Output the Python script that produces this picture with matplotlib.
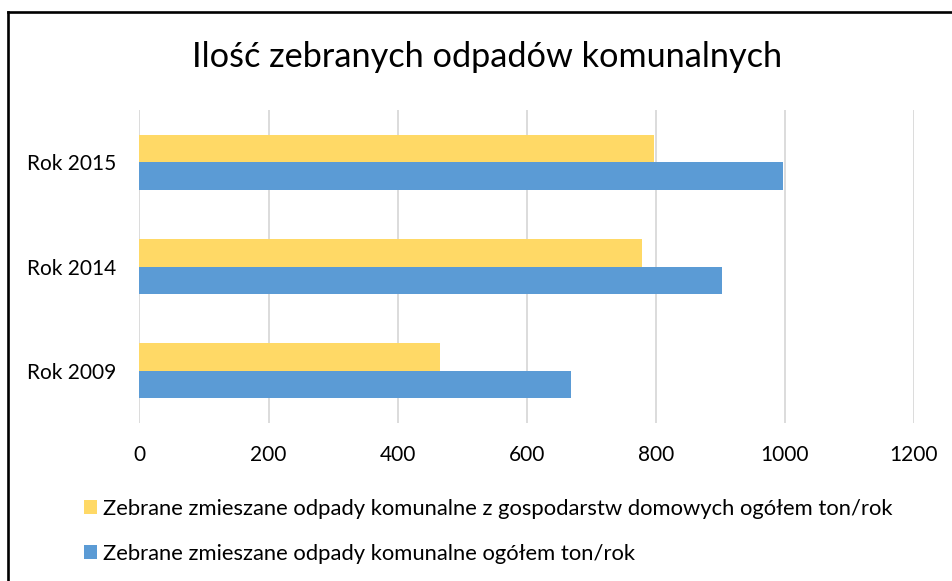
import numpy as np
import matplotlib as mpl
mpl.use("Agg")
from matplotlib import pyplot as plt
from matplotlib.lines import Line2D

plt.rcParams['font.family'] = ['Lato', 'DejaVu Sans']

# data
years = ["Rok 2009", "Rok 2014", "Rok 2015"]
household = [466, 778, 797]   # z gospodarstw domowych
total = [668, 902, 997]       # ogółem
label_household = "Zebrane zmieszane odpady komunalne z gospodarstw domowych ogółem ton/rok"
label_total = "Zebrane zmieszane odpady komunalne ogółem ton/rok"
title = "Ilość zebranych odpadów komunalnych"
xticks = [0, 200, 400, 600, 800, 1000, 1200]

c_yellow = "#FFD966"
c_blue = "#5B9BD5"

fig = plt.figure(figsize=(9.53, 5.81), dpi=100)
ax = fig.add_axes([139.5 / 953, 1 - 423 / 581, (914 - 139.5) / 953, (423 - 110) / 581])

y = np.arange(len(years))
h = 0.264
b1 = ax.barh(y + h / 2, household, height=h, color=c_yellow, label=label_household, zorder=3)
b2 = ax.barh(y - h / 2, total, height=h, color=c_blue, label=label_total, zorder=3)

ax.set_xlim(0, 1200)
ax.set_ylim(-0.5, 2.5)
ax.set_xticks(xticks)
ax.set_yticks(y)
ax.set_yticklabels(years)
ax.tick_params(axis="x", length=0, pad=16, labelsize=15)
ax.tick_params(axis="y", length=0, pad=17, labelsize=15)
for s in ax.spines.values():
    s.set_visible(False)
ax.grid(axis="x", color="#D9D9D9", linewidth=1.3, zorder=0)

fig.text(487 / 953, 1 - 57 / 581, title, ha="center", va="center", fontsize=24.7)

fig.legend(handles=[b1, b2], loc="upper left", bbox_to_anchor=(75 / 953, 1 - 490 / 581),
           frameon=False, fontsize=15.8, handlelength=0.62, handleheight=0.62,
           handletextpad=0.25, labelspacing=1.15, borderaxespad=0)

# frame of the original chart (only left and top visible)
fig.add_artist(Line2D([8 / 953, 8 / 953], [0, 1 - 12 / 581], color="black", lw=1.9,
                      transform=fig.transFigure))
fig.add_artist(Line2D([8 / 953, 1], [1 - 12 / 581, 1 - 12 / 581], color="black", lw=1.9,
                      transform=fig.transFigure))

fig.savefig("out.png", dpi=100)
